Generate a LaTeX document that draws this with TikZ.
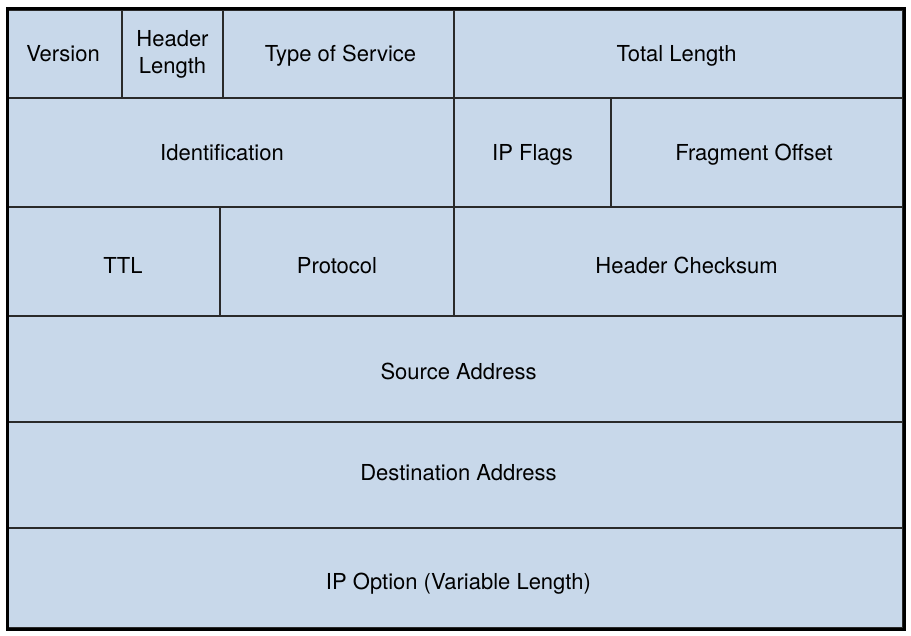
\documentclass[tikz,border=0pt]{standalone}
\usepackage{fontspec}
\setmainfont{TeX Gyre Heros}
\definecolor{ipblue}{HTML}{C8D8EA}
\definecolor{linegray}{HTML}{2A2A2A}
\tikzset{
  field/.style={draw=linegray, line width=2pt, fill=ipblue, inner sep=0pt},
  fieldtext/.style={inner sep=0pt, anchor=base, align=center,
    font=\fontsize{22}{27}\selectfont},
}
\begin{document}
\begin{tikzpicture}[x=1pt,y=-1pt]
		\useasboundingbox (0,0) rectangle (911,636);
		% row 1
		\node[field, minimum width=114, minimum height=88] (version) at (65,54) {};
		\node[field, minimum width=101, minimum height=88] (hlen) at (172.5,54) {};
		\node[field, minimum width=231, minimum height=88] (tos) at (338.5,54) {};
		\node[field, minimum width=449, minimum height=88] (totlen) at (678.5,54) {};
		% row 2
		\node[field, minimum width=446, minimum height=109] (ident) at (231,152.5) {};
		\node[field, minimum width=157, minimum height=109] (flags) at (532.5,152.5) {};
		\node[field, minimum width=292, minimum height=109] (fragoff) at (757,152.5) {};
		% row 3
		\node[field, minimum width=212, minimum height=109] (ttl) at (114,261.5) {};
		\node[field, minimum width=234, minimum height=109] (proto) at (337,261.5) {};
		\node[field, minimum width=449, minimum height=109] (cksum) at (678.5,261.5) {};
		% rows 4-6
		\node[field, minimum width=895, minimum height=106] (src) at (455.5,369) {};
		\node[field, minimum width=895, minimum height=106] (dst) at (455.5,475) {};
		\node[field, minimum width=895, minimum height=100] (opt) at (455.5,578) {};
		% outer frame
		\draw[line width=3pt, black] (version.north west) rectangle (opt.south east);
		% labels
		\node[fieldtext] (versiontxt) at ([xshift=-2,yshift=-8]version.center) {Version};
		\node[fieldtext] (hlentxt) at ([yshift=-20]hlen.center) {Header\\Length};
		\node[fieldtext] (tostxt) at ([xshift=2,yshift=-8]tos.center) {Type of Service};
		\node[fieldtext] (totlentxt) at ([xshift=-2,yshift=-8]totlen.center) {Total Length};
		\node[fieldtext] (identtxt) at ([xshift=-9,yshift=-8]ident.center) {Identification};
		\node[fieldtext] (flagstxt) at ([yshift=-8]flags.center) {IP Flags};
		\node[fieldtext] (fragofftxt) at ([xshift=-3,yshift=-8]fragoff.center) {Fragment Offset};
		\node[fieldtext] (ttltxt) at ([xshift=9,yshift=-12]ttl.center) {TTL};
		\node[fieldtext] (prototxt) at ([yshift=-12]proto.center) {Protocol};
		\node[fieldtext] (cksumtxt) at ([xshift=8,yshift=-12]cksum.center) {Header Checksum};
		\node[fieldtext] (srctxt) at ([xshift=3,yshift=-11]src.center) {Source Address};
		\node[fieldtext] (dsttxt) at ([xshift=3,yshift=-5]dst.center) {Destination Address};
		\node[fieldtext] (opttxt) at ([xshift=3,yshift=-11]opt.center) {IP Option (Variable Length)};
\end{tikzpicture}
\end{document}
